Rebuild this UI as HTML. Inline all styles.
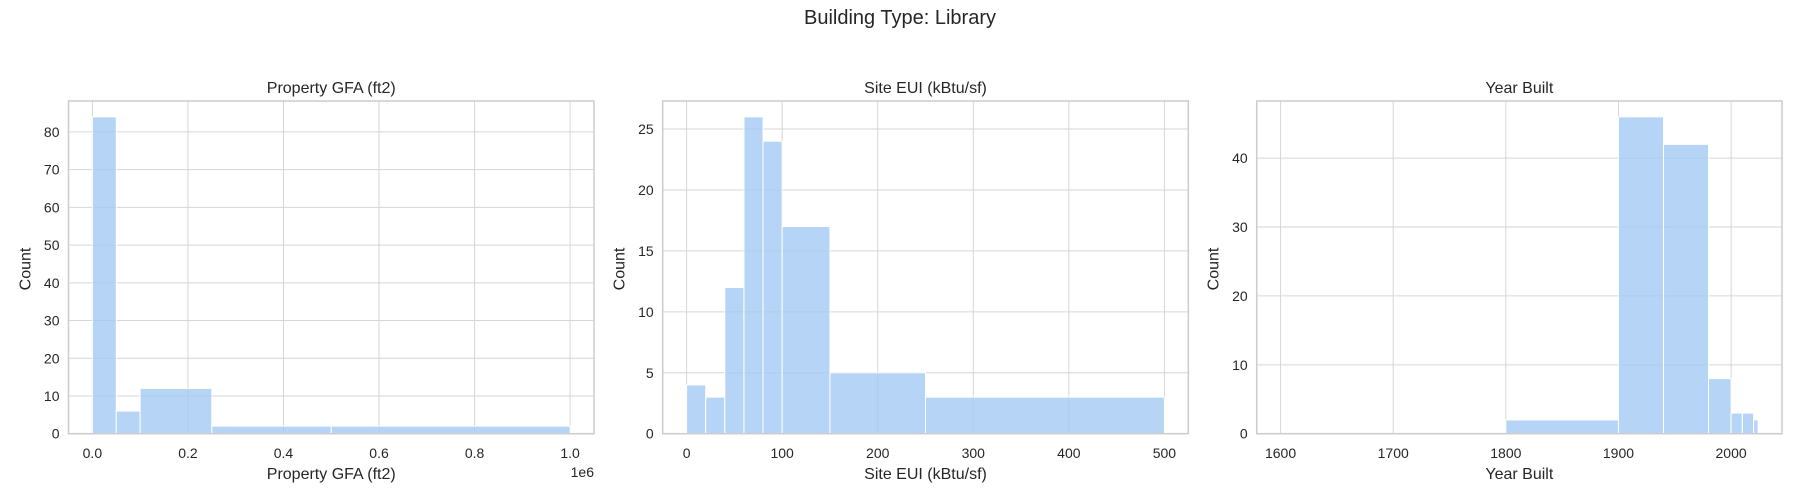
<!DOCTYPE html>
<html><head><meta charset="utf-8"><style>
html,body{margin:0;padding:0;background:#fff;}
svg{display:block;font-family:"Liberation Sans",Arial,sans-serif;fill:#262626;}
</style></head><body>
<svg id="fig" width="1800" height="500" viewBox="0 0 1800 500" xmlns="http://www.w3.org/2000/svg">
<text x="900" y="24" font-size="20" text-anchor="middle">Building Type: Library</text>
</svg>
<script>
// Panel 1: Property GFA
const gfaEdges = [0, 0.05, 0.1, 0.25, 0.5, 1.0];
const gfaCounts = [84, 6, 12, 2, 2];
const gfaXTicks = [0, 0.2, 0.4, 0.6, 0.8, 1.0];
const gfaXTickLabels = ["0.0", "0.2", "0.4", "0.6", "0.8", "1.0"];
const gfaYTicks = [0, 10, 20, 30, 40, 50, 60, 70, 80];
// Panel 2: Site EUI
const euiEdges = [0, 20, 40, 60, 80, 100, 150, 250, 500];
const euiCounts = [4, 3, 12, 26, 24, 17, 5, 3];
const euiXTicks = [0, 100, 200, 300, 400, 500];
const euiYTicks = [0, 5, 10, 15, 20, 25];
// Panel 3: Year Built
const yrEdges = [1600, 1800, 1900, 1940, 1980, 2000, 2010, 2020, 2024];
const yrCounts = [0, 2, 46, 42, 8, 3, 3, 2];
const yrXTicks = [1600, 1700, 1800, 1900, 2000];
const yrYTicks = [0, 10, 20, 30, 40];

const NS = "http://www.w3.org/2000/svg";
const svg = document.getElementById('fig');
function mk(tag, attrs, parent){
  const e = document.createElementNS(NS, tag);
  for (const k in attrs) e.setAttribute(k, attrs[k]);
  (parent||svg).appendChild(e);
  return e;
}
const TOP = 101, BOT = 433.7;

function panel(key, left, right, edges, counts, xticks, xlabels, yticks, title, xlabel, extra){
  const g = mk('g', {});
  
  
  const lo = edges[0], hi = edges[edges.length-1], R = hi - lo;
  const xmin = lo - 0.05*R, xmax = hi + 0.05*R;
  const ymax = Math.max(...counts) * 1.05;
  const X = v => left + (v - xmin) / (xmax - xmin) * (right - left);
  const Y = v => BOT - v / ymax * (BOT - TOP);
  // grid
  xticks.forEach(t => {
    const l = mk('line', {x1:X(t), x2:X(t), y1:TOP, y2:BOT, stroke:'#d6d6d6', 'stroke-width':1}, g);
    
    
  });
  yticks.forEach(t => {
    const l = mk('line', {x1:left, x2:right, y1:Y(t), y2:Y(t), stroke:'#d6d6d6', 'stroke-width':1}, g);
    
    
  });
  // bars
  counts.forEach((c, i) => {
    if (c <= 0) return;
    const x0 = X(edges[i]), x1 = X(edges[i+1]);
    const r = mk('rect', {x:x0, y:Y(c), width:x1-x0, height:BOT-Y(c), fill:'#a1c9f4', 'fill-opacity':0.78, stroke:'#ffffff', 'stroke-width':1}, g);
    
    
  });
  // spines
  const sp = mk('rect', {x:left, y:TOP, width:right-left, height:BOT-TOP, fill:'none', stroke:'#cccccc', 'stroke-width':1.5}, g);
  
  
  // tick labels
  xticks.forEach((t, i) => {
    const tx = mk('text', {x:X(t), y:458, 'font-size':14, 'text-anchor':'middle'}, g);
    tx.textContent = xlabels ? xlabels[i] : String(t);
    
    
  });
  yticks.forEach(t => {
    const tx = mk('text', {x:left-9, y:Y(t)+5, 'font-size':14, 'text-anchor':'end'}, g);
    tx.textContent = String(t);
    
    
  });
  const tt = mk('text', {x:(left+right)/2, y:93, 'font-size':16, 'text-anchor':'middle'}, g);
  tt.textContent = title;
  
  
  const xl = mk('text', {x:(left+right)/2, y:479, 'font-size':16, 'text-anchor':'middle'}, g);
  xl.textContent = xlabel;
  
  
  const yl = mk('text', {x:0, y:0, 'font-size':16, 'text-anchor':'middle', transform:'translate('+(left-38)+',269) rotate(-90)'}, g);
  yl.textContent = 'Count';
  
  
  if (extra) {
    const ex = mk('text', {x:right, y:477, 'font-size':14, 'text-anchor':'end'}, g);
    ex.textContent = extra;
    
    
  }
}
panel('gfa', 68.5, 594, gfaEdges, gfaCounts, gfaXTicks, gfaXTickLabels, gfaYTicks, 'Property GFA (ft2)', 'Property GFA (ft2)', '1e6');
panel('eui', 662.7, 1188.3, euiEdges, euiCounts, euiXTicks, null, euiYTicks, 'Site EUI (kBtu/sf)', 'Site EUI (kBtu/sf)', null);
panel('year', 1256.7, 1782, yrEdges, yrCounts, yrXTicks, null, yrYTicks, 'Year Built', 'Year Built', null);
</script>
</body></html>
